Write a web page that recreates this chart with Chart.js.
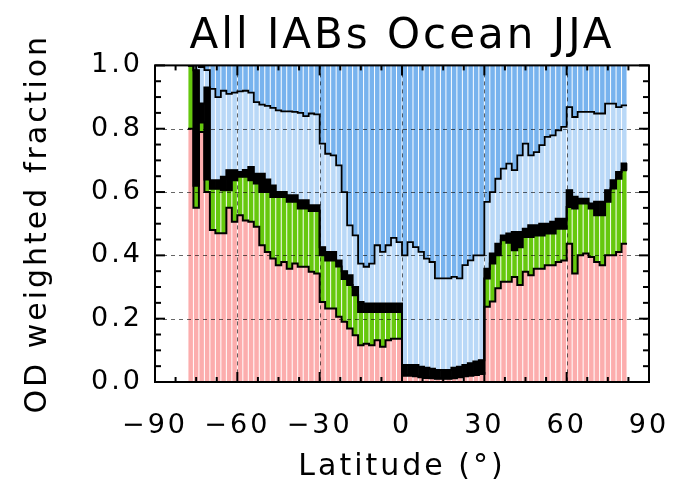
<!DOCTYPE html>
<html>
<head>
<meta charset="utf-8">
<script src="https://cdn.jsdelivr.net/npm/chart.js@4.4.1/dist/chart.umd.min.js"></script>
<style>
  html, body { margin: 0; padding: 0; background: #fff; }
  canvas { display: block; }
</style>
</head>
<body>
<canvas id="fractionChart" width="676" height="490"></canvas>
<script>
// 2-degree latitude bins (bin centres)
const latitude = [
  -77, -75, -73, -71, -69, -67, -65, -63, -61, -59,
  -57, -55, -53, -51, -49, -47, -45, -43, -41, -39,
  -37, -35, -33, -31, -29, -27, -25, -23, -21, -19,
  -17, -15, -13, -11, -9, -7, -5, -3, -1, 1,
  3, 5, 7, 9, 11, 13, 15, 17, 19, 21,
  23, 25, 27, 29, 31, 33, 35, 37, 39, 41,
  43, 45, 47, 49, 51, 53, 55, 57, 59, 61,
  63, 65, 67, 69, 71, 73, 75, 77, 79, 81
];
const binWidth = 2;

// OD weighted fraction of each class, bottom to top
const pinkFrac = [
  .80, .55, .79, .60, .48, .47, .47, .55, .506, .527,
  .51, .506, .49, .432, .411, .39, .369, .379, .358, .374,
  .364, .364, .348, .343, .253, .232, .232, .206, .19, .169,
  .148, .116, .121, .116, .132, .111, .132, .137, .137, .02,
  .02, .018, .015, .013, .012, .01, .01, .01, .012, .015,
  .018, .02, .022, .025, .238, .254, .296, .317, .317, .332,
  .306, .348, .337, .358, .358, .369, .369, .379, .384, .437,
  .343, .40, .406, .395, .379, .369, .40, .40, .411, .437
];
const greenFrac = [
  .20, .07, .03, .04, .13, .14, .136, .056, .131, .121,
  .138, .131, .137, .168, .189, .194, .215, .205, .211, .195,
  .184, .184, .192, .197, .147, .152, .152, .159, .135, .137,
  .126, .105, .10, .105, .089, .11, .089, .084, .084, .002,
  .002, .002, .002, .002, .002, .002, .002, .002, .002, .002,
  .002, .002, .002, .002, .089, .12, .104, .131, .123, .084,
  .12, .11, .121, .105, .105, .10, .10, .105, .10, .116,
  .205, .164, .158, .153, .148, .158, .169, .211, .231, .232
];
const blackFrac = [
  0, .365, .06, .29, .027, .027, .042, .063, .032, .015,
  .022, .042, .031, .058, .04, .037, .016, .016, .021, .021,
  .026, .026, .018, .018, .026, .027, .027, .019, .025, .031,
  .026, .032, .027, .027, .027, .027, .027, .027, .027, .032,
  .032, .034, .031, .03, .028, .026, .026, .026, .031, .031,
  .034, .037, .041, .042, .031, .032, .037, .015, .029, .058,
  .048, .026, .037, .032, .037, .031, .037, .032, .032, .053,
  .037, .015, .015, .016, .042, .042, .037, .026, .021, .021
];
const lightBlueFrac = [
  0, .015, .115, .055, .289, .263, .272, .241, .245, .255,
  .25, .235, .226, .218, .232, .245, .258, .255, .265, .263,
  .276, .266, .29, .287, .327, .31, .305, .30, .25, .158,
  .163, .121, .116, .126, .184, .163, .184, .207, .194, .346,
  .388, .372, .363, .345, .337, .289, .289, .289, .287, .279,
  .315, .325, .335, .331, .211, .194, .205, .211, .221, .195,
  .242, .269, .221, .231, .248, .274, .273, .279, .29, .262,
  .252, .274, .274, .289, .279, .279, .273, .242, .205, .184
];
const blueFrac = [
  0, 0, .005, .015, .074, .10, .08, .09, .086, .082,
  .08, .086, .116, .124, .128, .134, .142, .145, .145, .147,
  .15, .16, .152, .155, .247, .279, .284, .316, .40, .505,
  .537, .626, .636, .626, .568, .589, .568, .545, .558, .60,
  .558, .574, .589, .61, .621, .673, .673, .673, .668, .673,
  .631, .616, .60, .60, .431, .40, .358, .326, .31, .331,
  .284, .247, .284, .274, .252, .226, .221, .205, .194, .132,
  .163, .147, .147, .147, .152, .152, .121, .121, .132, .126
];

const latTicks = [-90, -60, -30, 0, 30, 60, 90];
const fracTicks = [0, 0.2, 0.4, 0.6, 0.8, 1.0];

const layers = [
  { data: pinkFrac, color: '#FCADAD', bar: 0.82 },
  { data: greenFrac, color: '#66C80E', bar: 0.82 },
  { data: blackFrac, color: '#000000', bar: 1.0 },
  { data: lightBlueFrac, color: '#B9D8F7', bar: 0.82 },
  { data: blueFrac, color: '#78B3EE', bar: 0.82 }
];

const barSets = layers.map(l => ({
  type: 'bar',
  data: latitude.map((lat, i) => ({ x: lat, y: l.data[i] })),
  backgroundColor: l.color,
  borderWidth: 0,
  barPercentage: l.bar,
  categoryPercentage: 1.0,
  order: 1
}));

// step outlines along the top of the lower four classes
const edgeSets = [];
let running = latitude.map(() => 0);
layers.slice(0, 4).forEach((l, n) => {
  running = running.map((v, i) => v + l.data[i]);
  const pts = latitude.map((lat, i) => ({ x: lat - binWidth / 2, y: running[i] }));
  pts.push({ x: latitude[latitude.length - 1] + binWidth / 2, y: running[running.length - 1] });
  edgeSets.push({
    type: 'line',
    data: pts,
    stack: 'edge' + n,
    stepped: true,
    borderColor: '#000',
    borderWidth: n === 3 ? 1.8 : 2,
    pointRadius: 0,
    fill: false,
    order: 0
  });
});

// frame, inward ticks and dashed grid drawn over the bars
const frameTicks = {
  id: 'frameTicks',
  beforeDraw(chart) {
    chart.ctx.letterSpacing = '3px';
  },
  afterDatasetsDraw(chart) {
    const { ctx, chartArea: a, scales: { x, y } } = chart;
    ctx.save();
    ctx.letterSpacing = '0px';
    const seg = (x1, y1, x2, y2) => { ctx.beginPath(); ctx.moveTo(x1, y1); ctx.lineTo(x2, y2); ctx.stroke(); };

    ctx.strokeStyle = 'rgba(0,0,0,0.6)';
    ctx.lineWidth = 1;
    ctx.setLineDash([4, 4]);
    latTicks.slice(1, -1).forEach(v => {
      const px = Math.round(x.getPixelForValue(v)) + 0.5;
      seg(px, a.top, px, a.bottom);
    });
    fracTicks.slice(1, -1).forEach(v => {
      const py = Math.round(y.getPixelForValue(v)) + 0.5;
      seg(a.left, py, a.right, py);
    });
    ctx.setLineDash([]);

    ctx.strokeStyle = '#000';
    ctx.lineWidth = 2;
    for (let v = -90; v <= 90; v += 7.5) {
      const px = x.getPixelForValue(v);
      const len = v % 30 === 0 ? 10 : 5;
      seg(px, a.bottom, px, a.bottom - len);
      seg(px, a.top, px, a.top + len);
    }
    for (let k = 0; k <= 20; k++) {
      const py = y.getPixelForValue(k * 0.05);
      const len = k % 4 === 0 ? 10 : 6;
      seg(a.left, py, a.left + len, py);
      seg(a.right, py, a.right - len, py);
    }
    ctx.strokeRect(a.left, a.top, a.right - a.left, a.bottom - a.top);
    ctx.restore();
  }
};

Chart.defaults.font.family = "'DejaVu Sans', sans-serif";
Chart.defaults.color = '#000';

new Chart(document.getElementById('fractionChart'), {
  type: 'bar',
  data: { datasets: [...barSets, ...edgeSets] },
  options: {
    responsive: false,
    animation: false,
    devicePixelRatio: 1,
    layout: { padding: { left: 0, right: 27, top: 0, bottom: 0 } },
    plugins: {
      legend: { display: false },
      tooltip: { enabled: false },
      title: {
        display: true,
        fullSize: false,
        text: 'All IABs Ocean JJA',
        font: { size: 42, weight: 'normal' },
        color: '#000',
        padding: { top: 12, bottom: 3 }
      }
    },
    scales: {
      x: {
        type: 'linear',
        min: -90,
        max: 90,
        stacked: true,
        offset: false,
        grid: { display: false, drawTicks: false },
        border: { display: false },
        ticks: {
          stepSize: 30,
          autoSkip: false,
          maxRotation: 0,
          padding: 28,
          font: { size: 27 },
          callback: v => (v < 0 ? '\u2212' + Math.abs(v) : String(v))
        },
        title: { display: true, text: 'Latitude (°)', font: { size: 30 }, padding: { top: 0, bottom: 5 } },
        afterFit: s => {
          s.height = 108;
          s.paddingLeft = 0;
          s.paddingRight = 0;
        }
      },
      y: {
        min: 0,
        max: 1,
        stacked: true,
        grid: { display: false, drawTicks: false },
        border: { display: false },
        ticks: {
          stepSize: 0.2,
          padding: 12,
          font: { size: 27 },
          callback: v => v.toFixed(1)
        },
        title: { display: true, text: 'OD weighted fraction', font: { size: 30 }, padding: { top: 20, bottom: 0 } },
        afterFit: s => { s.width = 155; }
      }
    }
  },
  plugins: [frameTicks]
});
</script>
</body>
</html>
